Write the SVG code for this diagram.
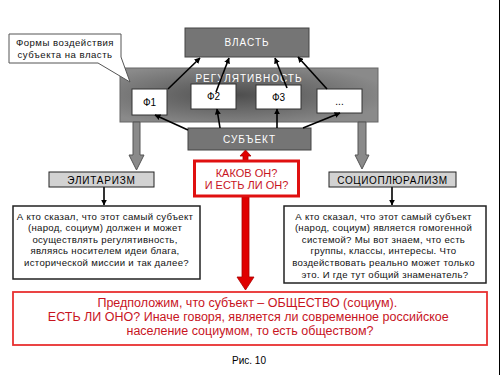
<svg xmlns="http://www.w3.org/2000/svg" width="500" height="375" viewBox="0 0 500 375">
<style>
text{font-family:"Liberation Sans",Arial,sans-serif}
.w{fill:#fff;font-size:10px;letter-spacing:1px}
.b{fill:#000;font-size:10px}
.t{fill:#111;font-size:9.6px}
.r{fill:#c8141e}
.gbox{fill:#757575;stroke:#444;stroke-width:1}
.fbox{fill:#fff;stroke:#333;stroke-width:1}
.lab{fill:#d2d2d2;stroke:#222;stroke-width:1}
.conn{stroke:#000;stroke-width:1.6;fill:none;marker-end:url(#ah)}
</style>
<defs>
<marker id="ah" viewBox="0 0 10 10" refX="9" refY="5" markerWidth="6" markerHeight="6" orient="auto" markerUnits="userSpaceOnUse">
<path d="M0,0L10,5L0,10z" fill="#000"/>
</marker>
<radialGradient id="rg" cx="0.45" cy="0.5" r="0.6">
<stop offset="0" stop-color="#4e4e4e"/>
<stop offset="1" stop-color="#8a8a8a"/>
</radialGradient>
</defs>
<rect x="0" y="0" width="500" height="375" fill="#fff"/>
<line x1="499.5" y1="0" x2="499.5" y2="375" stroke="#000" stroke-width="1"/>

<g id="regulativnost">
<rect x="120" y="68" width="258" height="54" fill="url(#rg)" stroke="#666"/>
<text class="w" x="249" y="82" text-anchor="middle" font-size="11">РЕГУЛЯТИВНОСТЬ</text>
</g>
<g id="vlast">
<rect class="gbox" x="185" y="28" width="124" height="29"/>
<text class="w" x="247" y="46" text-anchor="middle">ВЛАСТЬ</text>
</g>
<g id="f1"><rect class="fbox" x="132" y="89" width="35" height="26"/><text class="b" x="149.5" y="106" text-anchor="middle">Ф1</text></g>
<g id="f2"><rect class="fbox" x="191" y="84" width="45" height="25"/><text class="b" x="213.5" y="100" text-anchor="middle">Ф2</text></g>
<g id="f3"><rect class="fbox" x="256" y="85" width="45" height="24"/><text class="b" x="278.5" y="101" text-anchor="middle">Ф3</text></g>
<g id="f4"><rect class="fbox" x="317" y="89" width="45" height="24"/><text class="b" x="339.5" y="105" text-anchor="middle">...</text></g>
<g id="subekt">
<rect class="gbox" x="188" y="128" width="123" height="22"/>
<text class="w" x="249.5" y="143" text-anchor="middle" font-size="11">СУБЪЕКТ</text>
</g>

<g id="callout">
<path d="M9,34H121V57L130,82L98,63H9Z" fill="#fff" stroke="#555" stroke-width="1"/>
<text class="t" x="65" y="46" text-anchor="middle" letter-spacing="0.5">Формы воздействия</text>
<text class="t" x="65" y="58" text-anchor="middle" letter-spacing="0.5">субъекта на власть</text>
</g>

<g id="connectors">
<line class="conn" x1="188" y1="130" x2="155" y2="115"/>
<line class="conn" x1="220" y1="128" x2="217" y2="109"/>
<line class="conn" x1="277" y1="128" x2="277" y2="109"/>
<line class="conn" x1="303" y1="128" x2="340" y2="113"/>
<line class="conn" x1="168" y1="89" x2="200" y2="58"/>
<line class="conn" x1="216" y1="92" x2="229" y2="58"/>
<line class="conn" x1="287" y1="88" x2="275" y2="58"/>
<line class="conn" x1="327" y1="89" x2="298" y2="57"/>
<path d="M133,122H140V155H144L136.5,170L129,155H133Z" fill="#8a8a8a" stroke="#555" stroke-width="1"/>
<path d="M358,122H366V155H369L362,169L355,155H358Z" fill="#8a8a8a" stroke="#555" stroke-width="1"/>
<line class="conn" x1="104" y1="187" x2="104" y2="205"/>
<line class="conn" x1="392" y1="187" x2="392" y2="205"/>
<path d="M243,160V156H240L245.5,150L251,156H248V160Z" fill="#e00000" stroke="#a00" stroke-width="0.8"/>
<path d="M242,197H249V277H254L245.5,290L237,277H242Z" fill="#e00000" stroke="#a00" stroke-width="0.8"/>
</g>

<g id="elitarizm">
<rect class="lab" x="49" y="172" width="105" height="15"/>
<text class="b" x="101.5" y="184" text-anchor="middle" letter-spacing="0.8">ЭЛИТАРИЗМ</text>
</g>
<g id="socio">
<rect class="lab" x="329" y="172" width="127" height="15"/>
<text class="b" x="392.5" y="184" text-anchor="middle" letter-spacing="0.6">СОЦИОПЛЮРАЛИЗМ</text>
</g>

<g id="left-text">
<rect x="13" y="206" width="187" height="73" fill="#fff" stroke="#222" stroke-width="1.5"/>
<text class="t" text-anchor="middle" letter-spacing="0.3">
<tspan x="106.5" y="219.5">А кто сказал, что этот самый субъект</tspan>
<tspan x="106.5" y="231">(народ, социум) должен и может</tspan>
<tspan x="106.5" y="242.5">осуществлять регулятивность,</tspan>
<tspan x="106.5" y="254">являясь носителем идеи блага,</tspan>
<tspan x="106.5" y="265.5">исторической миссии и так далее?</tspan>
</text>
</g>
<g id="right-text">
<rect x="284" y="206" width="202" height="77" fill="#fff" stroke="#222" stroke-width="1.5"/>
<text class="t" text-anchor="middle" letter-spacing="0.3">
<tspan x="385" y="219.5">А кто сказал, что этот самый субъект</tspan>
<tspan x="385" y="231">(народ, социум) является гомогенной</tspan>
<tspan x="385" y="242.5">системой? Мы вот знаем, что есть</tspan>
<tspan x="385" y="254">группы, классы, интересы. Что</tspan>
<tspan x="385" y="265.5">воздействовать реально может только</tspan>
<tspan x="385" y="277.5">это. И где тут общий знаменатель?</tspan>
</text>
</g>

<g id="kakov">
<rect x="194.5" y="161" width="104" height="35" fill="#fff" stroke="#e01010" stroke-width="3"/>
<text class="r" font-size="11" text-anchor="middle"><tspan x="246.5" y="177">КАКОВ ОН?</tspan><tspan x="246.5" y="189">И ЕСТЬ ЛИ ОН?</tspan></text>
</g>

<g id="bottom">
<rect x="13" y="292" width="474" height="53" fill="#fff" stroke="#e83030" stroke-width="1.8"/>
<text class="r" font-size="12.5" text-anchor="middle">
<tspan x="249" y="307">Предположим, что субъект – ОБЩЕСТВО (социум).</tspan>
<tspan x="250" y="321">ЕСТЬ ЛИ ОНО? Иначе говоря, является ли современное российское</tspan>
<tspan x="250" y="335">население социумом, то есть обществом?</tspan>
</text>
</g>
<text class="b" x="249" y="364" text-anchor="middle" font-size="10">Рис. 10</text>
</svg>
